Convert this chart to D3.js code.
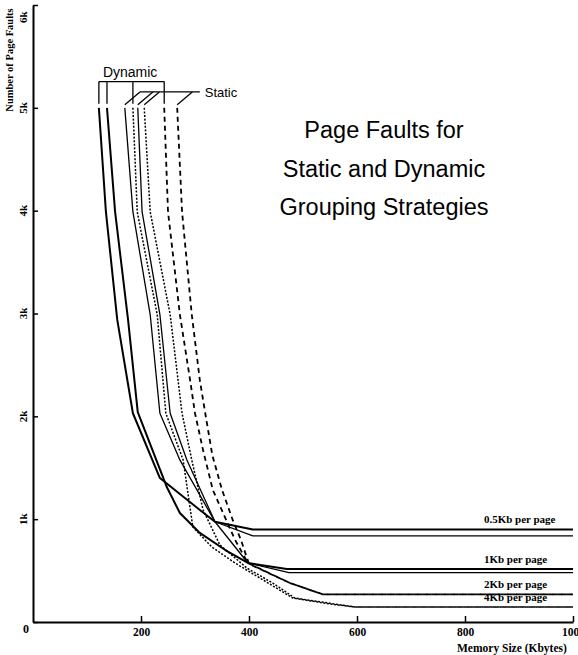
<!DOCTYPE html>
<html>
<head>
<meta charset="utf-8">
<script src="https://cdn.jsdelivr.net/npm/d3@7"></script>
<style>
  html, body { margin: 0; padding: 0; background: #fff; }
  svg { display: block; }
</style>
</head>
<body>
<script>
// ---- data (memory size in Kbytes, number of page faults) ----
const xTickValues = [200, 400, 600, 800, 1000];
const yTickValues = [0, 1000, 2000, 3000, 4000, 5000, 6000];
const yTickLabels = ["0", "1k", "2k", "3k", "4k", "5k", "6k"];

const dynamic05 = [[122,5000],[135,3990],[156,2940],[185,2030],[235,1400],[309,1090],[337,975],[407,900],[1000,900]];
const static05  = [[170,5000],[185,3990],[217,2990],[235,2030],[272,1576],[337,975],[407,837],[1000,837]];
const dynamic1  = [[137,5000],[152,3990],[176,2940],[194,2040],[248,1310],[272,1060],[309,866],[356,700],[398,574],[470,516],[1000,516]];
const static1   = [[194,5000],[202,3990],[235,2990],[254,2030],[285,1576],[337,975],[398,574],[474,480],[1000,480]];
const dynamic2  = [[243,5000],[250,3990],[272,2990],[291,2350],[300,2030],[315,1670],[333,1285],[352,1060],[374,800],[398,574],[476,379],[537,268],[1000,268]];
const static2   = [[267,5000],[276,3990],[294,2990],[309,2350],[319,2030],[332,1625],[350,1285],[370,990],[385,800],[400,564],[476,379],[537,268],[1000,268]];
const dynamic4  = [[185,5000],[193,3990],[230,2990],[246,2030],[278,1576],[296,924],[331,730],[374,574],[420,428],[481,233],[550,175],[596,146],[1000,146]];
const static4   = [[206,5000],[217,3990],[254,2990],[276,2030],[294,1576],[315,1090],[346,750],[396,525],[444,379],[485,233],[596,146],[1000,146]];

const pageLabels = ["0.5Kb per page", "1Kb per page", "2Kb per page", "4Kb per page"];
const titleLines = ["Page Faults for", "Static and Dynamic", "Grouping Strategies"];
const xTitle = "Memory Size (Kbytes)";
const yTitle = "Number of Page Faults";

// ---- layout / styles ----
const W = 578, H = 655;
const x = d3.scaleLinear().domain([0, 1000]).range([33, 573]);
const y = d3.scaleLinear().domain([0, 6000]).range([622, 5]);

const series = [
  { name: "dynamic05", data: dynamic05, width: 2.0, dash: null },
  { name: "dynamic1",  data: dynamic1,  width: 2.0, dash: null },
  { name: "static05",  data: static05,  width: 1.3, dash: null },
  { name: "static1",   data: static1,   width: 1.3, dash: null },
  { name: "dynamic4",  data: dynamic4,  width: 1.5, dash: "2,1.6" },
  { name: "static4",   data: static4,   width: 1.5, dash: "2,1.6" },
  { name: "dynamic2",  data: dynamic2,  width: 1.8, dash: "5,4" },
  { name: "static2",   data: static2,   width: 1.8, dash: "5,4" }
];

const svg = d3.select("body").append("svg").attr("width", W).attr("height", H);
const serif = "'Liberation Serif', 'Times New Roman', serif";
const sans = "'Liberation Sans', Arial, Helvetica, sans-serif";

// axes
const gx = svg.append("g").attr("transform", `translate(0,${y(0)})`)
  .call(d3.axisBottom(x).tickValues(xTickValues).tickFormat(d3.format("d"))
    .tickSizeInner(-6).tickSizeOuter(0).tickPadding(6));
gx.select(".domain").attr("stroke", "#000").attr("stroke-width", 2);
gx.selectAll(".tick line").attr("stroke", "#000").attr("stroke-width", 1.5);
gx.selectAll(".tick text").attr("font-family", serif).attr("font-size", 11.5).attr("font-weight", "bold").attr("fill", "#000");

const gy = svg.append("g").attr("transform", `translate(${x(0)},0)`)
  .call(d3.axisLeft(y).tickValues(yTickValues).tickSizeInner(-5).tickSizeOuter(0).tickFormat(""));
gy.select(".domain").attr("stroke", "#000").attr("stroke-width", 2);
gy.selectAll(".tick line").attr("stroke", "#000").attr("stroke-width", 1.5);

// y tick labels (rotated)
yTickValues.forEach((v, i) => {
  if (v === 0) {
    svg.append("text").attr("x", 26).attr("y", y(0) + 11)
      .attr("text-anchor", "middle").attr("font-family", serif).attr("font-size", 12)
      .attr("font-weight", "bold").text(yTickLabels[i]);
  } else {
    const top = v === d3.max(yTickValues);
    svg.append("text")
      .attr("transform", `translate(27,${top ? y(v) + 18 : y(v)}) rotate(-90)`)
      .attr("text-anchor", top ? "start" : "middle")
      .attr("font-family", serif).attr("font-size", 11).attr("font-weight", "bold")
      .text(yTickLabels[i]);
  }
});

// axis titles
svg.append("text").attr("transform", `translate(13,60) rotate(-90)`)
  .attr("text-anchor", "middle").attr("font-family", serif).attr("font-size", 10.5)
  .attr("font-weight", "bold").text(yTitle);
svg.append("text").attr("x", 457).attr("y", 652)
  .attr("font-family", serif).attr("font-size", 11.5).attr("font-weight", "bold").text(xTitle);

// curves
const line = d3.line().x(d => x(d[0])).y(d => y(d[1]));
svg.append("g").selectAll("path").data(series).join("path")
  .attr("d", d => line(d.data))
  .attr("fill", "none").attr("stroke", "#000")
  .attr("stroke-width", d => d.width)
  .attr("stroke-dasharray", d => d.dash)
  .attr("stroke-linejoin", "round");

// page-size labels above the plateaus
const plateaus = [
  d3.max([dynamic05, static05], s => s[s.length - 1][1]),
  d3.max([dynamic1, static1], s => s[s.length - 1][1]),
  d3.max([dynamic2, static2], s => s[s.length - 1][1]),
  d3.max([dynamic4, static4], s => s[s.length - 1][1])
];
pageLabels.forEach((t, i) => {
  svg.append("text").attr("x", x(835)).attr("y", y(plateaus[i]) - 6)
    .attr("font-family", serif).attr("font-size", 11).attr("font-weight", "bold").text(t);
});

// Dynamic bracket
const dynSeries = [dynamic05, dynamic1, dynamic4, dynamic2];
const dynStarts = dynSeries.map(s => s[0][0]);
const bracketTop = 5255, bracketBottom = 5040;
const ann = svg.append("g").attr("stroke", "#000").attr("stroke-width", 1.3).attr("fill", "none");
ann.append("line").attr("x1", x(d3.min(dynStarts))).attr("x2", x(d3.max(dynStarts)))
  .attr("y1", y(bracketTop)).attr("y2", y(bracketTop));
dynStarts.forEach(s => {
  ann.append("line").attr("x1", x(s)).attr("x2", x(s)).attr("y1", y(bracketTop)).attr("y2", y(bracketBottom));
});
svg.append("text").attr("x", x(d3.min(dynStarts)) + 4).attr("y", y(bracketTop) - 5)
  .attr("font-family", sans).attr("font-size", 14).text("Dynamic");

// Static leader
const statSeries = [static05, static1, static4, static2];
const statStarts = statSeries.map(s => s[0][0]);
const leaderY = 5155, leaderDx = 28;
statStarts.forEach(s => {
  ann.append("line").attr("x1", x(s)).attr("y1", y(bracketBottom - 10))
    .attr("x2", x(s + leaderDx)).attr("y2", y(leaderY));
});
ann.append("line").attr("x1", x(d3.min(statStarts) + leaderDx)).attr("x2", x(309))
  .attr("y1", y(leaderY)).attr("y2", y(leaderY));
svg.append("text").attr("x", x(318)).attr("y", y(leaderY) + 5)
  .attr("font-family", sans).attr("font-size", 13).text("Static");

// title
titleLines.forEach((t, i) => {
  svg.append("text").attr("x", 384).attr("y", 138 + i * 38.5)
    .attr("text-anchor", "middle").attr("font-family", sans).attr("font-size", 23.5)
    .text(t);
});
</script>
</body>
</html>
